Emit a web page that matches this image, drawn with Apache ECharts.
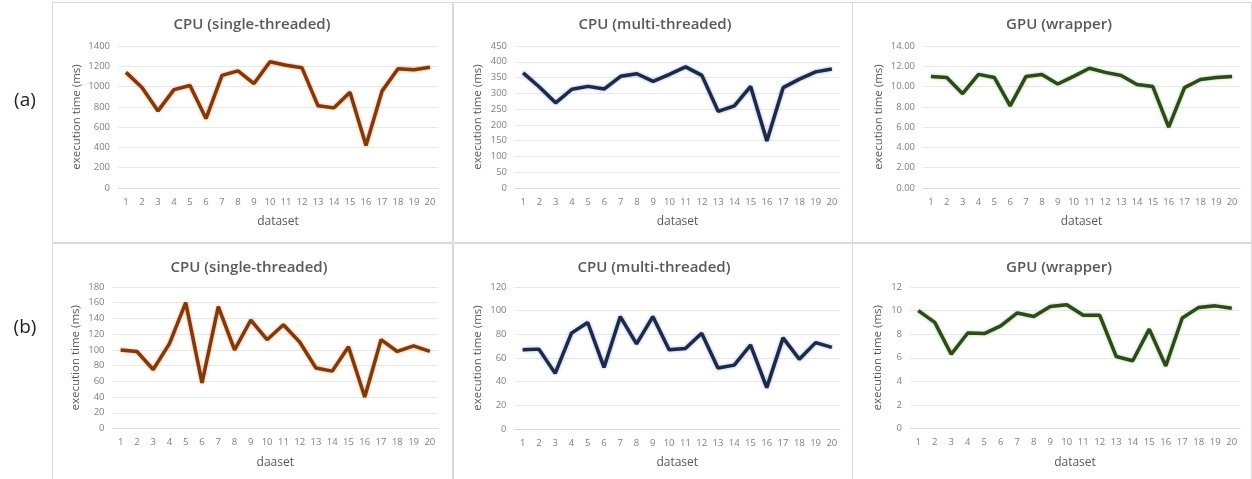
<!DOCTYPE html>
<html>
<head>
<meta charset="utf-8">
<script src="https://cdn.jsdelivr.net/npm/echarts@6/dist/echarts.min.js"></script>
<style>html,body{margin:0;padding:0;background:#fff;}#c{width:1252px;height:479px;}</style>
</head>
<body>
<div id="c"></div>
<script>
const categories = ['1','2','3','4','5','6','7','8','9','10','11','12','13','14','15','16','17','18','19','20'];
const titles = ['CPU (single-threaded)','CPU (multi-threaded)','GPU (wrapper)','CPU (single-threaded)','CPU (multi-threaded)','GPU (wrapper)'];
const xNames = ['dataset','dataset','dataset','daaset','dataset','dataset'];
const rowLabels = ['(a)','(b)'];
const aCpuSingle = [1140,990,760,970,1010,685,1110,1155,1030,1245,1210,1185,810,790,945,420,955,1175,1165,1190];
const aCpuMulti = [365,320,270,313,322,314,354,362,338,360,384,357,243,260,322,149,318,345,368,377];
const aGpu = [11.0,10.9,9.3,11.2,10.9,8.1,11.0,11.2,10.25,11.0,11.8,11.4,11.1,10.2,10.0,6.0,9.9,10.7,10.9,11.0];
const bCpuSingle = [100,98,75,108,160,58,155,100,138,113,132,110,77,73,104,40,113,98,105,98];
const bCpuMulti = [67,67.5,47,81,90,52,95,72,95,67,68,81,51.5,54,71,35,77,59,73,69];
const bGpu = [10.0,9.0,6.3,8.1,8.05,8.7,9.8,9.5,10.35,10.5,9.6,9.6,6.1,5.75,8.43,5.3,9.37,10.27,10.4,10.2];
const yMax = [1400,450,14,180,120,12];
const yStep = [200,50,2,20,20,2];
const yDecimals = [0,0,2,0,0,0];
const seriesData = [aCpuSingle,aCpuMulti,aGpu,bCpuSingle,bCpuMulti,bGpu];
const colors = ['#7e3a0e','#1c2a4a','#2c4a1c','#7e3a0e','#1c2a4a','#2c4a1c'];
const glow = ['rgba(235,140,70,0.8)','rgba(110,130,180,0.7)','rgba(130,180,100,0.7)','rgba(235,140,70,0.8)','rgba(110,130,180,0.7)','rgba(130,180,100,0.7)'];

// layout
const grids = [
  {left:118, top:46, width:320, height:142},
  {left:515, top:46, width:325, height:142},
  {left:923, top:46, width:317, height:142},
  {left:112.5, top:287, width:325.5, height:141.5},
  {left:514.5, top:287, width:325.5, height:142},
  {left:910, top:287, width:330, height:141.5}
];
const titleCenters = [[247,23],[650,23],[1054,23],[244,266],[649,266],[1054,266]];
const yNameGaps = [35,31,38,31,31,26];
const panels = [[52,2,400,240],[453,2,399,240],[852,2,399,240],[52,243,400,240],[453,243,399,240],[852,243,399,240]];

const font = 'Open Sans, Liberation Sans, sans-serif';
const option = {
  backgroundColor:'#fff',
  animation:false,
  title: titles.map((t,i)=>({text:t, left:titleCenters[i][0], top:titleCenters[i][1]-11, textAlign:'center',
    textStyle:{fontFamily:font, fontSize:15, fontWeight:600, color:'#595959'}})),
  grid: grids.map(g=>Object.assign({containLabel:false}, g)),
  xAxis: grids.map((g,i)=>({type:'category', gridIndex:i, data:categories, boundaryGap:true,
    name:xNames[i], nameLocation:'middle', nameGap:28,
    nameTextStyle:{fontFamily:font, fontSize:12, color:'#595959'},
    axisLine:{lineStyle:{color:'#d9d9d9'}}, axisTick:{show:false},
    axisLabel:{fontFamily:font, fontSize:9.5, color:'#7f7f7f', margin:9, interval:0}})),
  yAxis: grids.map((g,i)=>({type:'value', gridIndex:i, min:0, max:yMax[i], interval:yStep[i],
    name:'execution time (ms)', nameLocation:'middle', nameGap:yNameGaps[i],
    nameTextStyle:{fontFamily:font, fontSize:11.5, color:'#595959'},
    axisLine:{show:false}, axisTick:{show:false},
    splitLine:{lineStyle:{color:'#e8e8e8'}},
    axisLabel:{fontFamily:font, fontSize:9.5, color:'#7f7f7f', margin:8,
      formatter:v=>v.toFixed(yDecimals[i])}})),
  series: seriesData.map((d,i)=>({type:'line', xAxisIndex:i, yAxisIndex:i, data:d, symbol:'none',
    lineStyle:{color:colors[i], width:3.5, shadowColor:glow[i], shadowBlur:3}})),
  graphic: panels.map(p=>({type:'rect', shape:{x:p[0]+0.5,y:p[1]+0.5,width:p[2],height:p[3]}, silent:true, z:-1,
      style:{fill:'none', stroke:'#d9d9d9', lineWidth:1}}))
    .concat(rowLabels.map((t,i)=>({type:'text', x:25, y:i===0?101:328, silent:true,
      style:{text:t, fontFamily:font, fontSize:19, fill:'#222', textAlign:'center', textVerticalAlign:'middle'}})))
};
const chart = echarts.init(document.getElementById('c'));
chart.setOption(option);
</script>
</body>
</html>
